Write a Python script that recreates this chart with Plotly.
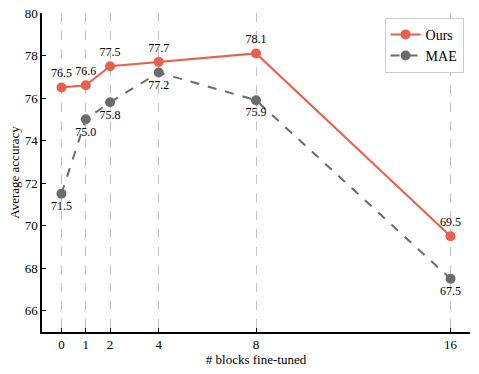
import plotly.graph_objects as go

blocks = [0, 1, 2, 4, 8, 16]
ours = [76.5, 76.6, 77.5, 77.7, 78.1, 69.5]
mae = [71.5, 75.0, 75.8, 77.2, 75.9, 67.5]
y_ticks = [66, 68, 70, 72, 74, 76, 78, 80]

font = "Liberation Serif, Times New Roman, serif"
red = "#E8604E"
gray = "#6B6B6B"

fig = go.Figure()
fig.add_trace(go.Scatter(
    x=blocks, y=ours, name="Ours", mode="lines+markers+text",
    line=dict(color=red, width=2), marker=dict(size=10, color=red),
    text=[f"{v:.1f}" for v in ours], textposition="top center",
    textfont=dict(size=12, color="black", family=font)))
fig.add_trace(go.Scatter(
    x=blocks, y=mae, name="MAE", mode="lines+markers+text",
    line=dict(color=gray, width=2, dash="dash"), marker=dict(size=10, color=gray),
    text=[f"{v:.1f}" for v in mae], textposition="bottom center",
    textfont=dict(size=12, color="black", family=font)))

fig.update_layout(
    width=479, height=374,
    margin=dict(l=42, r=9, t=13, b=42),
    plot_bgcolor="white", paper_bgcolor="white",
    font=dict(family=font, size=13, color="black"),
    legend=dict(x=0.985, y=0.985, xanchor="right", yanchor="top",
                bordercolor="#cccccc", borderwidth=1, bgcolor="white",
                font=dict(size=14, color="black")),
    xaxis=dict(range=[-0.8, 16.8], tickvals=blocks, ticks="inside", ticklen=4,
               tickcolor="black", automargin=False, ticklabeloverflow="allow",
               showline=True, linecolor="black", linewidth=1.5,
               showgrid=True, gridcolor="#c4c4c4", griddash="dash", gridwidth=1,
               zeroline=False, tickfont=dict(size=13, color="black"),
               title=dict(text="# blocks fine-tuned", font=dict(size=13, color="black"), standoff=0)),
    yaxis=dict(range=[65, 80], tickvals=y_ticks, ticks="inside", ticklen=4,
               tickcolor="black", automargin=False, ticklabeloverflow="allow",
               showline=True, linecolor="black", linewidth=1.5,
               showgrid=False, zeroline=False, tickfont=dict(size=13, color="black"),
               title=dict(text="Average accuracy", font=dict(size=13, color="black"), standoff=2)),
)

# drop the browser's default body margin so the figure sits at the page corner
fig.write_html("out.html", config={"displayModeBar": False},
               post_script="document.body.style.margin = '0';")
